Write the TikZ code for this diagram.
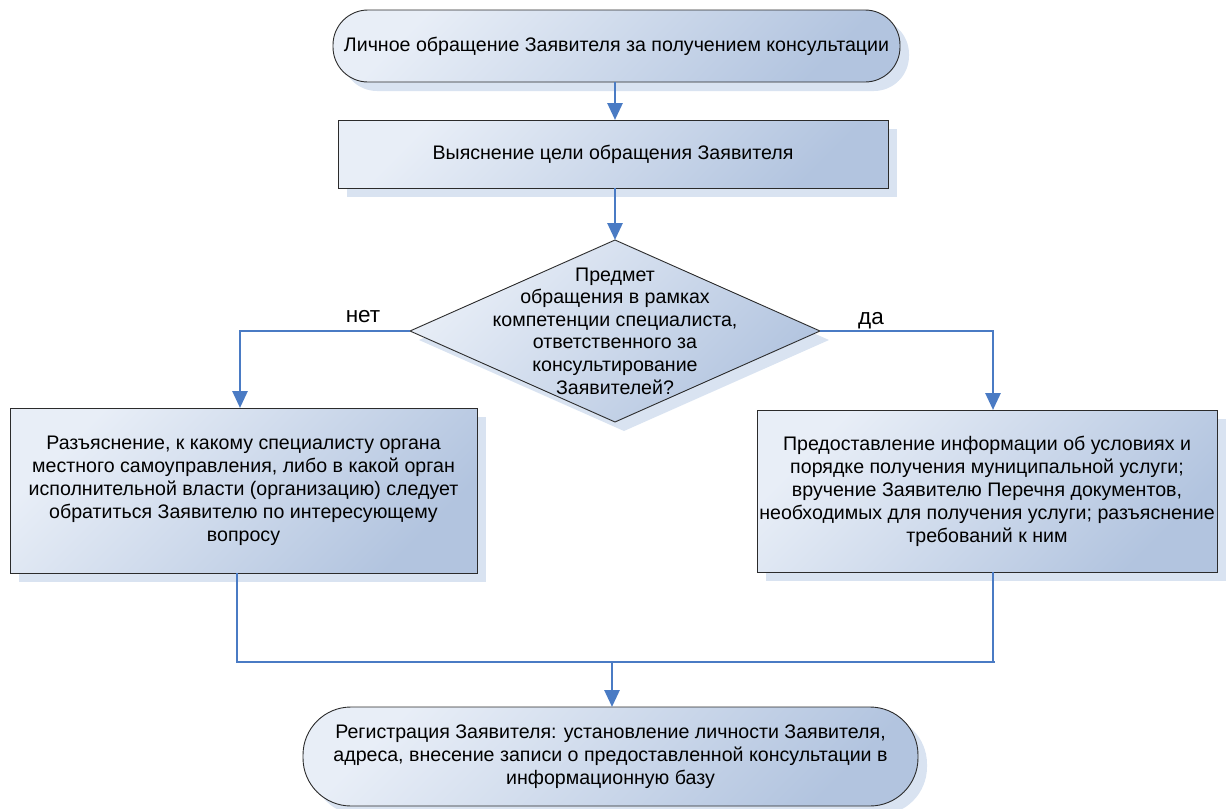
\documentclass[tikz,border=0pt]{standalone}
\usepackage{fontspec}
\setmainfont{Liberation Sans}
\usetikzlibrary{arrows.meta,shapes.geometric,shadows}
\definecolor{conn}{HTML}{4A7BC4}
\definecolor{fillL}{HTML}{E8EEF7}
\definecolor{fillR}{HTML}{B2C4DF}
\definecolor{shad}{HTML}{D9E3F1}
\definecolor{bord}{HTML}{2B2B2B}
\tikzset{
  shp/.style={draw=bord, line width=0.9pt, top color=fillL, bottom color=fillR, shading angle=45,
    drop shadow={shadow xshift=9pt, shadow yshift=-9pt, fill=shad, opacity=1, draw=none},
    inner sep=0pt, outer sep=0pt, font=\fontsize{19.6}{23}\selectfont, align=center},
  procbox/.style={shp, rectangle},
  termbox/.style={shp, rectangle, rounded corners=#1},
  decbox/.style={shp, diamond},
  conn/.style={draw=conn, line width=2.8pt, -{Triangle[length=17pt,width=15pt]}},
  plain/.style={draw=conn, line width=2.2pt},
  lbl/.style={font=\fontsize{22.5}{26}\selectfont}
}
\begin{document}
\begin{tikzpicture}[x=1pt,y=-1pt]
\useasboundingbox (0,0) rectangle (1227,809);
\node[termbox=35pt, minimum width=567pt, minimum height=72pt] (top) at (616.5,46) {Личное обращение Заявителя за получением консультации};
\node[procbox, minimum width=550pt, minimum height=68pt] (proc) at (613,154) {Выяснение цели обращения Заявителя};
\node[decbox, minimum width=410pt, minimum height=182pt] (dia) at (615,331) {};
\node[align=center, font=\fontsize{19.6}{22.6}\selectfont] (diat) at (615,331) {Предмет\\обращения в рамках\\компетенции специалиста,\\ответственного за\\консультирование\\Заявителей?};
\node[procbox, minimum width=467pt, minimum height=165pt] (left) at (243.5,490.5) {Разъяснение, к какому специалисту органа\\местного самоуправления, либо в какой орган\\исполнительной власти (организацию) следует\\обратиться Заявителю по интересующему\\вопросу};
\node[procbox, minimum width=460pt, minimum height=162pt] (right) at (987,491) {Предоставление информации об условиях и\\порядке получения муниципальной услуги;\\вручение Заявителю Перечня документов,\\необходимых для получения услуги; разъяснение\\требований к ним};
\node[termbox=48pt, minimum width=615pt, minimum height=99pt] (bot) at (610.5,756.5) {Регистрация Заявителя: установление личности Заявителя,\\адреса, внесение записи о предоставленной консультации в\\информационную базу};
\node[lbl] (no) at (363,317) {нет};
\node[lbl] (yes) at (871,321) {да};
\coordinate (jl) at (237,662);
\coordinate (jr) at (995,662);
\coordinate (jm) at (612,662);
\draw[conn] ([xshift=-1.5pt]top.south) -- ([xshift=-1.5pt]top.south |- proc.north);
\draw[conn] ([xshift=2pt]proc.south) -- ([xshift=2pt]proc.south |- dia.north);
\draw[conn] (dia.west) -| ([xshift=-3.5pt]left.north);
\draw[conn] (dia.east) -| ([xshift=6pt]right.north);
\draw[plain] ([xshift=-6.5pt]left.south) -- (jl) -- (jr);
\draw[plain] ([xshift=6pt]right.south) -- (993,662);
\draw[conn] (jm) -- (jm |- bot.north);
\end{tikzpicture}
\end{document}
